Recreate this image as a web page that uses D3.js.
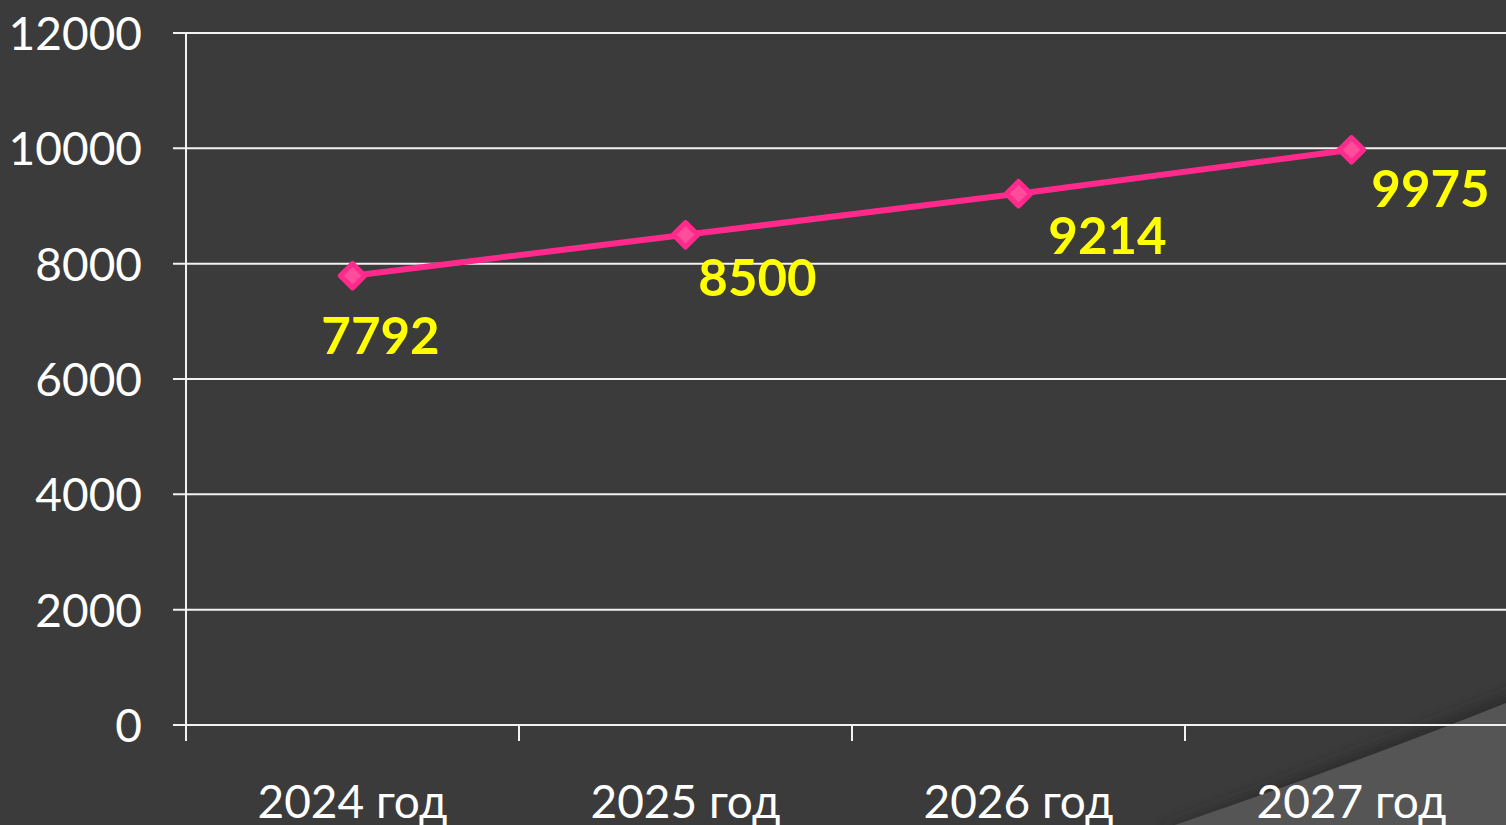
<!DOCTYPE html>
<html><head><meta charset="utf-8">
<script src="https://cdn.jsdelivr.net/npm/d3@7"></script>
<style>
html,body{margin:0;padding:0;background:#3b3b3b;overflow:hidden}
svg{display:block}
</style></head>
<body>
<svg id="chart" width="1506" height="825"></svg>
<script>
const categories = ["2024 год", "2025 год", "2026 год", "2027 год"];
const values = [7792, 8500, 9214, 9975];
const yTicks = [0, 2000, 4000, 6000, 8000, 10000, 12000];

const W = 1506, H = 825;
const svg = d3.select("#chart");
const fontFam = "Lato, 'Noto Sans', sans-serif";

// background
svg.append("rect").attr("width", W).attr("height", H).attr("fill", "#3b3b3b");
const defs = svg.append("defs");
defs.append("filter").attr("id", "blur").attr("x", "-20%").attr("y", "-20%").attr("width", "140%").attr("height", "140%")
  .append("feGaussianBlur").attr("stdDeviation", 7);
// decorative curve bottom-right (soft shadow then lighter surface)
svg.append("path")
  .attr("d", "M1160,830 Q1340,762 1520,690 L1520,830 Z")
  .attr("fill", "#262626").attr("opacity", 0.7).attr("filter", "url(#blur)");
svg.append("path")
  .attr("d", "M1175,825 Q1350,765 1506,703 L1506,825 Z")
  .attr("fill", "#555555");

const x = d3.scaleBand().domain(categories).range([186, 186 + 4 * 333]).padding(0);
const y = d3.scaleLinear().domain([0, 12000]).range([725, 33]);

// gridlines
svg.append("g").selectAll("line").data(yTicks).join("line")
  .attr("x1", 173).attr("x2", W)
  .attr("y1", d => y(d)).attr("y2", d => y(d))
  .attr("stroke", "#f2f2f2").attr("stroke-width", 2);

// y axis line
svg.append("line").attr("x1", 186).attr("x2", 186).attr("y1", y(12000)).attr("y2", 741)
  .attr("stroke", "#f2f2f2").attr("stroke-width", 2);

// x ticks
svg.append("g").selectAll("line").data(categories).join("line")
  .attr("x1", d => x(d)).attr("x2", d => x(d))
  .attr("y1", 725).attr("y2", 741)
  .attr("stroke", "#f2f2f2").attr("stroke-width", 2);

// y labels
svg.append("g").selectAll("text").data(yTicks).join("text")
  .attr("x", 142).attr("y", d => y(d) + 17)
  .attr("text-anchor", "end")
  .attr("fill", "#ffffff")
  .attr("font-family", fontFam).attr("font-size", 46)
  .text(d => d);

// x labels
svg.append("g").selectAll("text").data(categories).join("text")
  .attr("x", d => x(d) + x.bandwidth() / 2).attr("y", 818)
  .attr("text-anchor", "middle")
  .attr("fill", "#ffffff")
  .attr("font-family", fontFam).attr("font-size", 46)
  .text(d => d);

// line
const cx = (d, i) => x(categories[i]) + x.bandwidth() / 2;
const line = d3.line().x((d, i) => cx(d, i)).y(d => y(d));
svg.append("path").datum(values).attr("d", line)
  .attr("fill", "none").attr("stroke", "#ff2a8c").attr("stroke-width", 6)
  .attr("stroke-linejoin", "round");

// markers
svg.append("g").selectAll("path").data(values).join("path")
  .attr("d", d3.symbol().type(d3.symbolSquare).size(300))
  .attr("transform", (d, i) => `translate(${cx(d, i)},${y(d)}) rotate(45)`)
  .attr("fill", "#ff4d9c").attr("stroke", "#ff2a8c").attr("stroke-width", 5)
  .attr("stroke-linejoin", "round");

// data labels
const labelDx = [28, 72, 89, 79];
const labelDy = [78, 61, 60, 57];
svg.append("g").selectAll("text").data(values).join("text")
  .attr("x", (d, i) => cx(d, i) + labelDx[i])
  .attr("y", (d, i) => y(d) + labelDy[i])
  .attr("text-anchor", "middle")
  .attr("fill", "#ffff00")
  .attr("font-family", fontFam).attr("font-weight", "bold").attr("font-size", 51)
  .text(d => d);
</script>
</body></html>
